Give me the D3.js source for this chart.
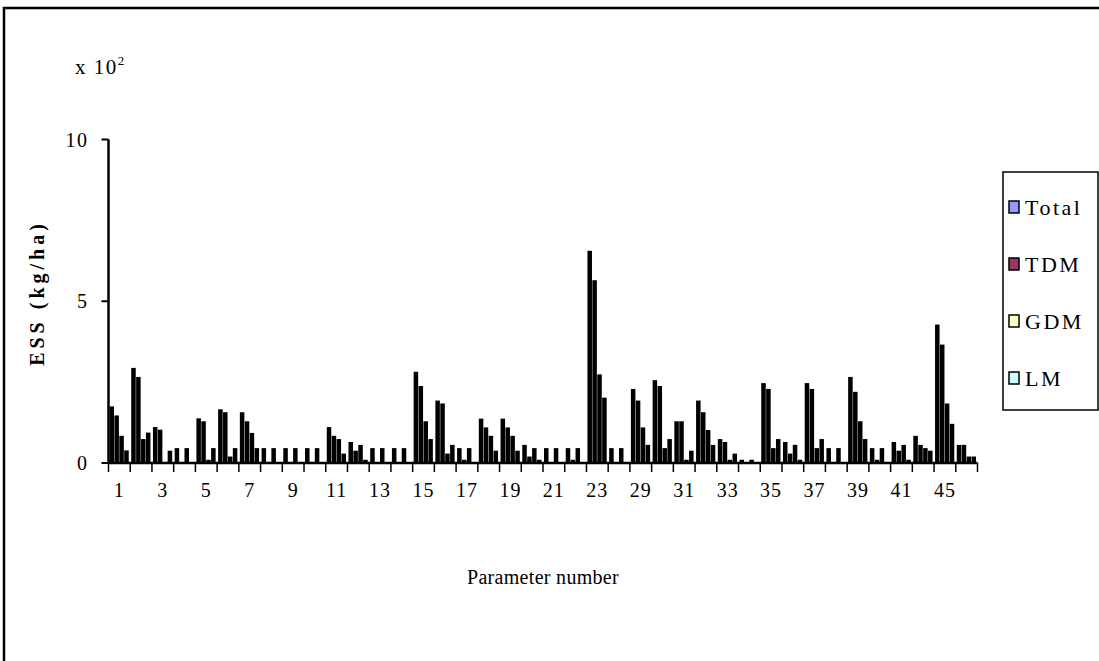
<!DOCTYPE html>
<meta charset="utf-8">
<script src="https://cdn.jsdelivr.net/npm/d3@7"></script>
<style>
body { margin: 0; background: #fff; }
text { font-family: "Liberation Serif", "Times New Roman", serif; fill: #000; }
</style>
<body>
<script>

// parameter numbers (only every other one is labelled on the axis)
var params = ["1","2","3","4","5","6","7","8","9","10","11","12","13","14","15","16","17","18","19","20",
              "21","22","23","24","29","30","31","32","33","34","35","36","37","38","39","40","41","43","45","46"];

var series = ["Total", "TDM", "GDM", "LM"];
var colors = ["#9999ff", "#993366", "#ffffcc", "#ccffff"];

// ESS values, x 10^2 kg/ha
var total = [1.75,2.94,1.11,0.46,1.38,1.66,1.57,0.46,0.46,0.46,1.11,0.65,0.46,0.46,2.82,1.93,0.46,1.37,1.37,0.56,
             0.46,0.46,6.56,0.46,2.29,2.56,1.29,1.93,0.74,0.10,2.47,0.65,2.47,0.46,2.66,0.46,0.65,0.84,4.28,0.56];
var tdm   = [1.47,2.66,1.03,0,   1.29,1.57,1.29,0,   0,   0,   0.84,0.38,0,   0,   2.38,1.84,0.10,1.10,1.10,0.20,
             0,   0.10,5.65,0,   1.93,2.38,1.29,1.57,0.65,0,   2.29,0.29,2.29,0,   2.20,0.10,0.38,0.56,3.66,0.56];
var gdm   = [0.84,0.74,0,   0.46,0.10,0.20,0.93,0.46,0.46,0.46,0.74,0.56,0.46,0.46,1.29,0.29,0.46,0.84,0.84,0.46,
             0.46,0.46,2.74,0.46,1.10,0.46,0.10,1.02,0.10,0.10,0.46,0.56,0.46,0.46,1.29,0.46,0.56,0.46,1.84,0.20];
var lm    = [0.39,0.94,0.38,0,   0.46,0.46,0.46,0,   0,   0,   0.29,0.10,0,   0,   0.74,0.56,0,   0.38,0.38,0.10,
             0,   0,   2.02,0,   0.56,0.74,0.38,0.56,0.29,0,   0.74,0.10,0.74,0,   0.74,0,   0.10,0.38,1.21,0.20];

var yTicks = [0, 5, 10];

var values = [total, tdm, gdm, lm];
var rows = params.map(function(p, i) {
    return { param: p, i: i, vals: series.map(function(s, k) { return { key: s, v: values[k][i] }; }) };
});

var width = 1099, height = 661;
var svg = d3.select("body").append("svg")
    .attr("width", width)
    .attr("height", height);

// chart area border
svg.append("rect")
    .attr("x", 4).attr("y", 8)
    .attr("width", 1110).attr("height", 700)
    .attr("fill", "none")
    .attr("stroke", "#000")
    .attr("stroke-width", 2.5);

var x0 = d3.scaleBand().domain(params).range([108.5, 977.5]);
var x1 = d3.scaleBand().domain(series).range([1, x0.bandwidth() - 1.5]).paddingInner(0.08);
var y = d3.scaleLinear().domain([0, 10]).range([463, 139.5]);

// bars
var g = svg.append("g");
g.selectAll(".cat")
    .data(rows)
    .enter().append("g")
    .attr("class", "cat")
    .attr("transform", function(d) { return "translate(" + x0(d.param) + ",0)"; })
  .selectAll("rect")
    .data(function(d) { return d.vals.filter(function(e) { return e.v > 0; }); })
    .enter().append("rect")
    .attr("x", function(d) { return x1(d.key); })
    .attr("width", x1.bandwidth())
    .attr("y", function(d) { return y(d.v); })
    .attr("height", function(d) { return y(0) - y(d.v); })
    .attr("fill", "#000");

// x axis: ticks between categories, labels every other category
var xAxis = svg.append("g").attr("transform", "translate(0," + y(0) + ")");
xAxis.append("line")
    .attr("x1", x0.range()[0]).attr("x2", x0.range()[1])
    .attr("stroke", "#000").attr("stroke-width", 2.5);
var bounds = params.map(function(p) { return x0(p); }).concat([x0.range()[1]]);
xAxis.selectAll(".tk")
    .data(bounds)
    .enter().append("line")
    .attr("x1", function(d) { return d; }).attr("x2", function(d) { return d; })
    .attr("y1", 0).attr("y2", 9)
    .attr("stroke", "#000").attr("stroke-width", 1.5);
xAxis.selectAll(".lbl")
    .data(rows.filter(function(d) { return d.i % 2 == 0; }))
    .enter().append("text")
    .attr("x", function(d) { return x0(d.param) + x0.bandwidth() / 2; })
    .attr("y", 34)
    .attr("text-anchor", "middle")
    .style("font-size", "20px")
    .style("letter-spacing", "1px")
    .text(function(d) { return d.param; });

// y axis
var yAxis = svg.append("g").attr("transform", "translate(" + x0.range()[0] + ",0)");
yAxis.append("line")
    .attr("y1", y(10)).attr("y2", y(0))
    .attr("stroke", "#000").attr("stroke-width", 2.5);
yAxis.selectAll(".tk")
    .data(yTicks)
    .enter().append("line")
    .attr("x1", -7).attr("x2", 0)
    .attr("y1", function(d) { return y(d); }).attr("y2", function(d) { return y(d); })
    .attr("stroke", "#000").attr("stroke-width", 2);
yAxis.selectAll(".lbl")
    .data(yTicks)
    .enter().append("text")
    .attr("x", -20)
    .attr("y", function(d) { return y(d) + 7; })
    .attr("text-anchor", "end")
    .style("font-size", "20px")
    .style("letter-spacing", "1.5px")
    .text(function(d) { return d; });

// unit multiplier
var mult = svg.append("text")
    .attr("x", 75).attr("y", 74)
    .style("font-size", "21px")
    .style("letter-spacing", "1.5px");
mult.append("tspan").text("x 10");
mult.append("tspan").attr("dy", -9).style("font-size", "13px").text("2");

// axis titles
svg.append("text")
    .attr("transform", "translate(44,293) rotate(-90)")
    .attr("text-anchor", "middle")
    .style("font-size", "20px")
    .style("font-weight", "bold")
    .style("letter-spacing", "4px")
    .text("ESS (kg/ha)");

svg.append("text")
    .attr("x", 543).attr("y", 584)
    .attr("text-anchor", "middle")
    .style("font-size", "20px")
    .style("letter-spacing", "0.3px")
    .text("Parameter number");

// legend
var leg = svg.append("g");
leg.append("rect")
    .attr("x", 1003).attr("y", 172)
    .attr("width", 95).attr("height", 238)
    .attr("fill", "#fff").attr("stroke", "#000").attr("stroke-width", 1.5);
var item = leg.selectAll(".item")
    .data(series)
    .enter().append("g")
    .attr("transform", function(d, i) { return "translate(1009," + (207 + i * 57) + ")"; });
item.append("rect")
    .attr("x", 0).attr("y", -6)
    .attr("width", 10).attr("height", 12)
    .attr("fill", function(d, i) { return colors[i]; })
    .attr("stroke", "#000").attr("stroke-width", 1.5);
item.append("text")
    .attr("x", 16).attr("y", 8)
    .style("font-size", "22px")
    .style("letter-spacing", "2.5px")
    .text(function(d) { return d; });

</script>
</body>
